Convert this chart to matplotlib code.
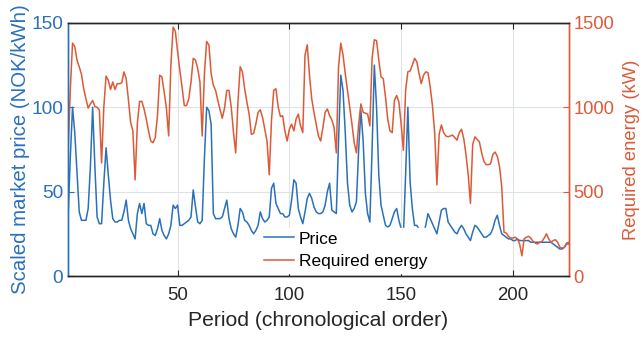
import numpy as np
import matplotlib
matplotlib.use("Agg")
import matplotlib.pyplot as plt

matplotlib.rcParams['font.family'] = ['Liberation Sans', 'DejaVu Sans']

blue = "#2a71bb"
orange = "#dc5a36"
dark = "#262626"

# scaled market price (NOK/kWh), one value per period
price = [35, 70, 100, 85, 62, 38, 33, 33, 33, 40,
         65, 100, 65, 35, 31, 31, 55, 76, 60, 45,
         34, 32, 32, 33, 33, 38, 45, 33, 28, 25,
         22, 37, 43, 37, 43, 31, 30, 30, 25, 24,
         28, 34, 27, 24, 22, 25, 30, 42, 40, 42,
         30, 30, 31, 32, 33, 35, 51, 41, 32, 31,
         33, 70, 100, 98, 90, 37, 34, 34, 34, 35,
         40, 45, 34, 28, 25, 23, 30, 40, 38, 33,
         32, 30, 27, 25, 27, 30, 38, 34, 32, 33,
         35, 52, 55, 43, 40, 37, 37, 35, 35, 36,
         45, 57, 55, 40, 35, 31, 38, 46, 49, 46,
         41, 38, 37, 37, 38, 42, 50, 55, 39, 38,
         37, 80, 119, 110, 85, 55, 42, 38, 40, 44,
         75, 98, 80, 49, 37, 32, 75, 125, 100, 60,
         42, 36, 30, 29, 30, 34, 38, 40, 33, 28,
         24, 60, 100, 56, 40, 30, 30, 28, 26, 25,
         30, 37, 34, 31, 28, 25, 32, 39, 40, 40,
         32, 30, 28, 26, 25, 28, 30, 28, 25, 23,
         21, 26, 30, 29, 27, 25, 23, 23, 24, 25,
         28, 33, 36, 30, 25, 24, 23, 22, 22, 21,
         21, 22, 21, 21, 21, 21, 21, 20, 20, 20,
         20, 20, 20, 20, 20, 20, 20, 19, 18, 17,
         16, 16, 17, 19, 19]

# required energy (kW), one value per period
energy = [740, 1100, 1380, 1360, 1280, 1240, 1195, 1110, 1050, 995,
          1020, 1040, 1005, 1000, 985, 670, 1000, 1185, 1160, 1105,
          1150, 1105, 1140, 1140, 1145, 1210, 1170, 1045, 910, 860,
          570, 905, 1035, 1035, 990, 930, 860, 800, 790, 820,
          950, 1190, 1180, 1090, 995, 830, 1250, 1475, 1450, 1330,
          1220, 1120, 1010, 1010, 1050, 1150, 1290, 1280, 1230, 1150,
          830, 1200, 1390, 1370, 1200, 1130, 1100, 1040, 985, 935,
          995, 1100, 1100, 1000, 850, 730, 1030, 1240, 1210, 1110,
          1030, 960, 840, 845, 900, 970, 985, 940, 870, 800,
          600, 920, 1100, 1110, 1000, 945, 950, 860, 800, 870,
          900, 860, 930, 960, 890, 850, 1310, 1370, 1190, 1050,
          970, 900, 830, 800, 880, 970, 990, 950, 925, 880,
          730, 1240, 1380, 1310, 1200, 1100, 1000, 900, 790, 730,
          900, 1020, 970, 965, 960, 890, 1290, 1400, 1395, 1280,
          1180, 1170, 1060, 930, 860, 850, 1040, 1070, 1030, 900,
          745, 1100, 1210, 1215, 1250, 1290, 1270, 1200, 1140, 1190,
          1210, 1205, 1120, 1010, 850, 540, 840, 895, 850, 830,
          825, 830, 835, 820, 805, 850, 870, 815, 720, 600,
          430, 780, 825, 810, 795, 730, 680, 660, 660, 665,
          720, 735, 710, 650, 530, 260, 255, 235, 225, 225,
          230, 220, 190, 120, 220, 230, 235, 225, 205, 195,
          190, 200, 205, 225, 250, 220, 200, 210, 215, 200,
          170, 165, 170, 195, 200]

period = np.arange(1, len(price) + 1)

fig = plt.figure(figsize=(6.42, 3.37), dpi=100)
ax = fig.add_axes([0.106, 0.181, 0.780, 0.751])
ax2 = ax.twinx()

l1, = ax.plot(period, price, color=blue, lw=1.1)
l2, = ax2.plot(period, energy, color=orange, lw=1.1)

ax.set_xlim(1, 225)
ax.set_ylim(0, 150)
ax2.set_ylim(0, 1500)
ax.set_xticks([50, 100, 150, 200])
ax.set_yticks([0, 50, 100, 150])
ax2.set_yticks([0, 500, 1000, 1500])

ax.grid(True, color="#dde3ea", lw=0.8)
ax.set_axisbelow(True)

for a in (ax, ax2):
    a.spines['top'].set_color(dark)
    a.spines['bottom'].set_color(dark)
    a.spines['left'].set_color(blue)
    a.spines['right'].set_color(orange)
    for s in a.spines.values():
        s.set_linewidth(1.0)

ax.tick_params(axis='x', direction='in', colors=dark, labelsize=13.4, top=True, length=4, pad=8)
ax.tick_params(axis='y', direction='in', colors=blue, labelsize=13.8, length=4)
ax2.tick_params(axis='y', direction='in', colors=orange, labelsize=13.2, length=4)

ax.set_xlabel("Period (chronological order)", fontsize=15.2, color=dark, labelpad=5)
ax.set_ylabel("Scaled market price (NOK/kWh)", fontsize=14.7, color=blue, labelpad=1)
ax2.set_ylabel("Required energy (kW)", fontsize=13.2, color=orange, labelpad=6)

leg = ax2.legend([l1, l2], ["Price", "Required energy"], loc='lower left',
                 bbox_to_anchor=(0.385, 0.012), fontsize=12.5, frameon=True,
                 handlelength=1.7, handletextpad=0.3, borderpad=0.2,
                 borderaxespad=0, labelspacing=0.45)
leg.get_frame().set_edgecolor('white')
leg.get_frame().set_alpha(1.0)
leg.set_zorder(2)

fig.savefig("out.png", dpi=100)
